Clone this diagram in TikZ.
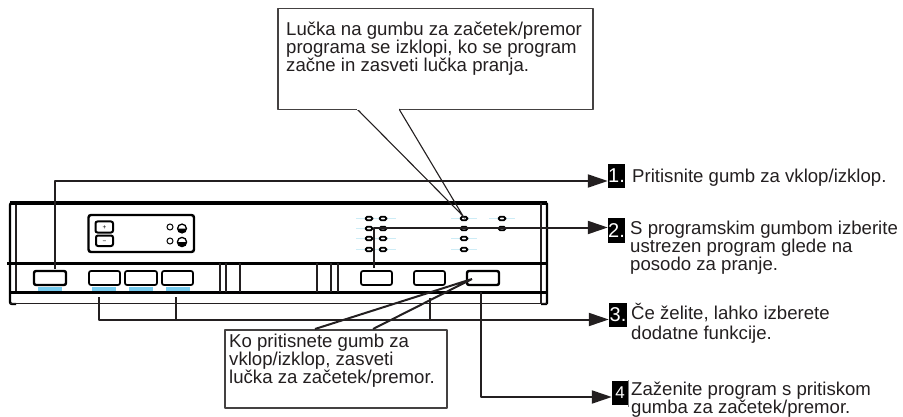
\documentclass[tikz,border=0pt]{standalone}
\usepackage{fontspec}
\setmainfont{Liberation Sans}
\usetikzlibrary{arrows.meta}
\definecolor{ink}{HTML}{231F20}
\definecolor{barblue}{HTML}{76CBEE}
\definecolor{faint}{HTML}{CDECF6}
\newcommand{\fs}{\rule{0pt}{14pt}}
\tikzset{
 x=1pt,y=-1pt,
 thickline/.style={draw=black,line width=3.6pt},
 midline/.style={draw=black,line width=2.4pt},
 thinline/.style={draw=ink,line width=1.4pt},
 conn/.style={draw=ink,line width=2pt,line join=round,-{Triangle[length=20pt,width=13pt]}},
 stub/.style={draw=ink,line width=2pt},
 callout/.style={draw=ink!85,line width=1.5pt,fill=white,line join=round},
 ptr/.style={draw=ink,line width=1.1pt},
 ptrb/.style={draw=ink,line width=2pt},
 panelbtn/.style={draw=black,line width=1.7pt,rounded corners=2pt,fill=white},
 panelbtnb/.style={draw=black,line width=2.4pt,rounded corners=2pt,fill=white},
 bar/.style={fill=barblue,draw=none},
 lab/.style={font=\fontsize{18.6}{18.3}\selectfont,anchor=north west,inner sep=0pt,align=left,text=ink},
 badge/.style={fill=black,text=white,inner sep=0pt,font=\fontsize{20}{20}\selectfont},
 led/.style={draw=black,line width=1.7pt,fill=white,rounded corners=1.5pt},
 faintd/.style={draw=faint,line width=0.6pt},
}
\begin{document}
\begin{tikzpicture}
\useasboundingbox (0,0) rectangle (903,417);
% panel
\draw[midline,rounded corners=2pt] (16,203) -| (10,304) -- (16,304);
\draw[thinline] (16,203) -- (16,292);
\draw[thickline] (10,203) -- (547,203);
\draw[midline,rounded corners=1pt] (541,203) -- (547,203) -- (547,304) -- (541,304);
\draw[thinline] (541,203) -- (541,304);
\draw[midline] (7,263.5) -- (547,263.5);
\draw[thickline] (10,292.5) -- (547,292.5);
\draw[thinline] (10,303.5) -- (547,303.5);
\foreach \px in {220,226,240,317,331,338} \draw[thinline] (\px,263) -- (\px,292);
% display
\draw[midline,rounded corners=2.5pt] (88.5,215) rectangle (194,252);
\draw[panelbtn,line width=2pt] (95.5,221.5) rectangle (113,232.5);
\draw[panelbtn,line width=2pt] (96,235.5) rectangle (113,246);
\node[inner sep=0pt,font=\fontsize{6.5}{6.5}\selectfont] at (104.5,228) {+};
\node[inner sep=0pt,font=\fontsize{6.5}{6.5}\selectfont] at (104.5,242) {−};
\draw[line width=1pt] (170,227) circle (3);
\draw[line width=1pt] (170,241) circle (3);
\draw[line width=1.3pt] (182,228.5) circle (4.4);
\fill (177.6,228.5) arc[start angle=180,end angle=0,radius=4.4] -- cycle;
\draw[line width=1.3pt] (182,242) circle (4.6);
\fill (177.4,242) arc[start angle=180,end angle=0,radius=4.6] -- cycle;
% leds
\foreach \px/\py in {369/218.5,383/218.5,369/228.5,383/228.5,369/238.5,383/238.5,369/249.5,383/249.5,464/218.5,464/228.5,464/238.5,464/249.5,502/218.5,502/228.5}{
 \draw[faintd] (\px-13,\py) -- (\px+13,\py);
}
\foreach \px/\py in {369/218.5,383/218.5,369/228.5,383/228.5,369/238.5,383/238.5,369/249.5,383/249.5,464/218.5,464/228.5,464/238.5,464/249.5,502/218.5,502/228.5}{
 \draw[led] (\px-3.4,\py-1.7) rectangle (\px+3.4,\py+1.7);
}
% panel buttons
\foreach \pa/\pb in {89/120,125/157,162/193,361/392,414/445}
 \draw[panelbtn] (\pa,271) rectangle (\pb,285);
\draw[panelbtnb] (34,271) rectangle (66,285);
\draw[panelbtnb] (467,271) rectangle (499,285);
\foreach \pa in {38,92,129,166} \fill[bar] (\pa,286.5) rectangle (\pa+24,290.5);
% upper callout
\node[callout,inner sep=0pt,anchor=north west,minimum width=315pt,minimum height=101pt] (top) at (277,8) {};
\coordinate (ta) at (357,109);
\coordinate (tb) at (399,109);
\coordinate (tl) at (463,216);
\draw[ptr] (ta) -- (tl) -- (tb);
\draw[draw=white,line width=2.2pt] (ta) -- (tb);
\node[lab] (tt) at (286,21) {\fs Lučka na gumbu za začetek/premor\\programa se izklopi, ko se program\\začne in zasveti lučka pranja.};
% connectors and badges
\node[badge,minimum width=17pt,minimum height=24pt] (b1) at (616.5,176) {\raisebox{-3.5pt}{1.}};
\node[badge,minimum width=17pt,minimum height=25pt] (b2) at (616.5,230.5) {\raisebox{-3pt}{2.}};
\node[badge,minimum width=18pt,minimum height=24pt] (b3) at (618,315) {3.};
\node[badge,minimum width=16pt,minimum height=24pt,font=\fontsize{17}{17}\selectfont] (b4) at (620,393) {4};
\draw[draw=gray,line width=.6pt] (628.5,380) -- (628.5,407);
\coordinate (s1) at (55,269);
\coordinate (s2) at (374,268);
\coordinate (s3) at (99,297);
\coordinate (s3b) at (176,297);
\coordinate (s3c) at (430,298);
\coordinate (s4) at (481,292);
\draw[conn] (s1) |- (b1.west |- 0,181);
\draw[conn] (s2) |- (b2.west |- 0,227.5);
\draw[conn] (s3) |- (b3.west |- 0,319.5);
\draw[stub] (s3b) -- (176,319.5);
\draw[stub] (s3c) -- (430,319.5);
\draw[conn] (s4) |- (b4.west |- 0,397);
% labels
\node[lab] (l1) at (632,168) {\fs Pritisnite gumb za vklop/izklop.};
\node[lab] (l2) at (630,220) {\fs S programskim gumbom izberite\\ustrezen program glede na\\posodo za pranje.};
\node[lab] (l3) at (631,303) {\fs Če želite, lahko izberete\\[1.4pt]dodatne funkcije.};
\node[lab] (l4) at (631,381) {\fs Zaženite program s pritiskom\\gumba za začetek/premor.};
% lower callout
\node[callout,inner sep=0pt,anchor=north west,minimum width=222pt,minimum height=78pt] (bot) at (224,329) {};
\coordinate (ba) at (315,329);
\coordinate (bb) at (373,329);
\coordinate (bl) at (472,279);
\draw[ptrb] (ba) -- (bl) -- (bb);
\node[lab] (bt) at (229,333) {\fs Ko pritisnete gumb za\\vklop/izklop, zasveti\\lučka za začetek/premor.};
\end{tikzpicture}
\end{document}
